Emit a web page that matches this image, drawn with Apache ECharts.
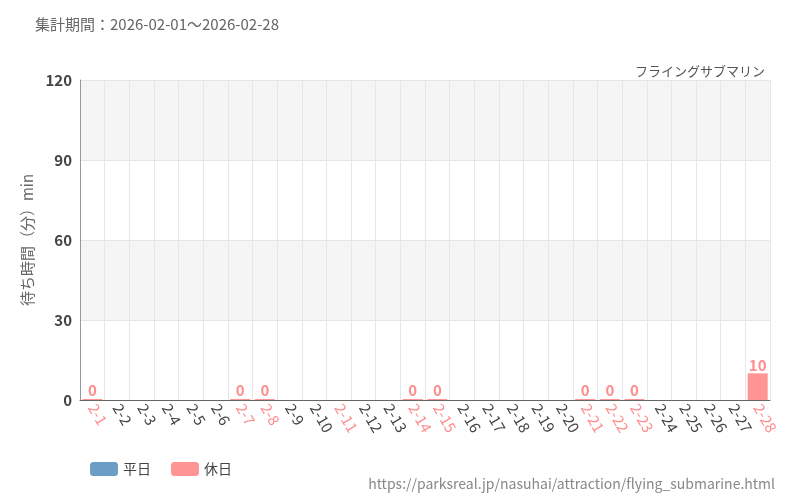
<!DOCTYPE html>
<html><head><meta charset="utf-8">
<script src="https://cdn.jsdelivr.net/npm/echarts@6/dist/echarts.min.js"></script>
<style>body{margin:0}#chart_box{width:800px;height:500px}</style>
</head><body><div id="chart_box"></div>
<script>
const days = ["2-1","2-2","2-3","2-4","2-5","2-6","2-7","2-8","2-9","2-10","2-11","2-12","2-13","2-14","2-15","2-16","2-17","2-18","2-19","2-20","2-21","2-22","2-23","2-24","2-25","2-26","2-27","2-28"];
const holidays = ["2-1","2-7","2-8","2-11","2-14","2-15","2-21","2-22","2-23","2-28"];
// waiting minutes, null = no data
const weekdayWait = days.map(() => null);
const holidayWait = [0,null,null,null,null,null,0,0,null,null,null,null,null,0,0,null,null,null,null,null,0,0,0,null,null,null,null,10];
const yTicks = [0, 30, 60, 90, 120];

let myChart = echarts.init(document.getElementById('chart_box'));
const font = 'Noto Sans CJK JP';
let myOption = {
    textStyle: {fontFamily: font},
    title: [
        {text: '集計期間：2026-02-01～2026-02-28', left: 30, top: 12,
         textStyle: {fontSize: 15, fontWeight: 'normal', color: '#666', fontFamily: font}},
        {text: 'フライングサブマリン', right: 30, top: 60,
         textStyle: {fontSize: 13, fontWeight: 'normal', color: '#555', fontFamily: font}},
        {text: 'https://parksreal.jp/nasuhai/attraction/flying_submarine.html', right: 20, top: 472,
         textStyle: {fontSize: 14, fontWeight: 'normal', color: '#888', fontFamily: font}}
    ],
    legend: {
        left: 85, top: 457, itemWidth: 28, itemHeight: 14, itemGap: 20,
        textStyle: {fontSize: 14, color: '#444'},
        data: ['平日', '休日']
    },
    grid: {left: 80, right: 30, top: 80, bottom: 100},
    xAxis: {
        type: 'category', data: days,
        axisLine: {lineStyle: {color: '#666'}},
        axisTick: {show: false},
        splitLine: {show: true, lineStyle: {color: '#e6e6e6'}},
        axisLabel: {
            interval: 0, rotate: -60, fontSize: 15, margin: 5,
            color: (v) => holidays.includes(v) ? '#ff8c8c' : '#444'
        }
    },
    yAxis: {
        type: 'value', min: yTicks[0], max: yTicks[yTicks.length - 1], interval: 30,
        name: '待ち時間（分）min', nameLocation: 'middle', nameGap: 45,
        nameTextStyle: {fontSize: 15, color: '#666'},
        axisLine: {show: true, lineStyle: {color: '#999'}},
        axisTick: {show: false},
        axisLabel: {fontSize: 15, color: '#444', fontWeight: 'bold'},
        splitLine: {lineStyle: {color: '#e6e6e6'}},
        splitArea: {show: true, areaStyle: {color: ['#fff', '#f5f5f5']}}
    },
    series: [
        {name: '平日', type: 'bar', data: weekdayWait, barWidth: 20, barGap: '-100%',
         itemStyle: {color: '#6a9ec6'}},
        {name: '休日', type: 'bar', data: holidayWait, barWidth: 20, barMinHeight: 1,
         itemStyle: {color: '#ff9494'},
         label: {show: true, position: 'top', color: '#ff8c8c', fontSize: 15, fontWeight: 'bold', distance: 1}}
    ]
};
myChart.setOption(myOption);
</script></body></html>
